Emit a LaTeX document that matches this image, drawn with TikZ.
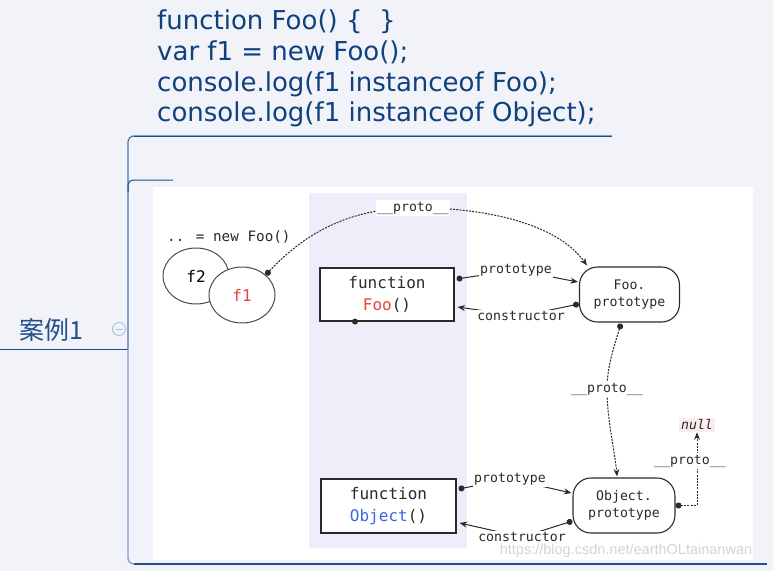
\documentclass[tikz,border=0pt]{standalone}
\usepackage{fontspec}
\setmainfont{DejaVu Sans}
\newfontfamily\monof{DejaVu Sans Mono}
\newfontfamily\cjk{Noto Sans CJK SC}
\newfontfamily\wmf{Liberation Sans}
\usetikzlibrary{arrows.meta,calc,shapes.geometric}
\definecolor{bgc}{HTML}{F2F3F8}
\definecolor{codec}{HTML}{0F4080}
\definecolor{mapdark}{HTML}{1F4F8F}
\definecolor{mapmid}{HTML}{4A73AB}
\definecolor{maplight}{HTML}{7E9DC9}
\definecolor{lav}{HTML}{EEEEFB}
\definecolor{ink}{HTML}{2A2A2A}
\definecolor{fooRed}{HTML}{E8433B}
\definecolor{objBlue}{HTML}{3F63E6}
\definecolor{nullbg}{HTML}{FBEDED}
\definecolor{iconc}{HTML}{A9C0E4}
\pgfdeclarelayer{back}
\pgfdeclarelayer{front}
\pgfsetlayers{back,main,front}
\tikzset{
  codetxt/.style={anchor=base west, inner sep=0pt, text=codec, font=\fontsize{26}{31}\selectfont},
  fnbox/.style={draw=ink, line width=1.1pt, fill=white, minimum width=134pt, minimum height=53pt,
    align=center, inner sep=0pt, text=ink, font=\monof\fontsize{16}{22}\selectfont},
  protobox/.style={draw=ink, line width=1.1pt, fill=white, rounded corners=18pt, minimum width=100pt,
    minimum height=55pt, align=center, inner sep=0pt, text=ink, font=\monof\fontsize{13.2}{17}\selectfont},
  lbl/.style={fill=white, inner sep=1.5pt, text=ink, font=\monof\fontsize{13.2}{15}\selectfont},
  elli/.style={ellipse, draw=ink!85, line width=1pt, fill=white, minimum width=66pt, minimum height=56pt,
    inner sep=0pt, font=\monof\fontsize{16}{18}\selectfont},
  link/.style={draw=ink, line width=1pt, {Circle[length=6pt]}-{Stealth[length=7.5pt,width=6pt]}},
  plink/.style={link, dash pattern=on 2pt off 1.2pt},
}
\begin{document}
\begin{tikzpicture}[x=1pt,y=-1pt]
\useasboundingbox (0,0) rectangle (773,571);
\begin{pgfonlayer}{back}
\fill[bgc] (0,0) rectangle (773,571);
\fill[white] (153,187) rectangle (753,560);
\fill[lav] (309,193) rectangle (467,548);
\end{pgfonlayer}

% code text
\node[codetxt] (c1) at (157,29) {function Foo() \{\ \ \}};
\node[codetxt] (c2) at (157,60) {var f1 = new Foo();};
\node[codetxt] (c3) at (157,91) {console.log(f1 instanceof Foo);};
\node[codetxt] (c4) at (157,121) {console.log(f1 instanceof Object);};

% mind map connectors
\draw[mapdark, line width=1pt] (0,349) -- (128,349);
\draw[mapmid, line width=1.2pt, rounded corners=6pt] (612,136) -- (128,136) -- (128,349);
\draw[mapdark, line width=1pt] (134,136) -- (612,136);
\draw[mapdark, line width=1pt, rounded corners=5pt] (173,180) -- (128,180) -- (128,192);
\draw[maplight, line width=1.3pt, rounded corners=6pt] (128,349) -- (128,564) -- (140,564);
\draw[mapdark, line width=1.2pt] (134,564) -- (767,564);

\node[anchor=base west, inner sep=0pt, text=mapdark, font=\cjk\fontsize{25}{27}\selectfont] (case) at (19,339) {案例1};
\node[circle, draw=iconc, line width=0.9pt, minimum size=13pt, inner sep=0pt] (icon) at (119,329) {};
\draw[iconc, line width=0.9pt] ($(icon.center)+(-3.5,0)$) -- ($(icon.center)+(3.5,0)$);

% diagram
\node[anchor=base west, inner sep=0pt, text=ink, font=\monof\fontsize{14.3}{16}\selectfont] (newfoo) at (167,241) {.. = new Foo()};
\node[elli] (f2) at (196,276) {f2};
\node[elli, text=fooRed] (f1) at (242,295) {f1};

\node[fnbox] (FooBox) at (387,294.5) {function\\\textcolor{fooRed}{Foo}()};
\node[fnbox, minimum width=135pt, minimum height=54pt] (OB) at (388.5,506) {function\\\textcolor{objBlue}{Object}()};
\node[protobox] (FP) at (629.5,294.5) {Foo.\\prototype};
\node[protobox, minimum width=102pt] (OP) at (624,505.5) {Object.\\prototype};

\begin{pgfonlayer}{front}
\node[lbl] (la) at (413,208) {\_\_proto\_\_};
\node[lbl] (lb) at (607,389) {\_\_proto\_\_};
\node[lbl] (lc) at (690,461) {\_\_proto\_\_};
\node[lbl, fill=nullbg, inner sep=2pt] (nl) at (697,425) {\itshape null};
\node[lbl] (lp1) at (516,270) {prototype};
\node[lbl] (lc1) at (521,316) {constructor};
\node[lbl] (lp2) at (510,479) {prototype};
\node[lbl] (lc2) at (522,537) {constructor};
\node[inner sep=0pt, text=black!17, font=\wmf\fontsize{14.5}{16}\selectfont] (wm) at (626,551) {https://blog.csdn.net/earthOLtainanwan};
\end{pgfonlayer}

% connectors
\draw[link] ($(FooBox.east)+(2,-15.5)$) -- (lp1.center) -- ($(FP.west)+(-1,-12.5)$);
\draw[link] ($(FP.west)+(0,9.5)$) -- (lc1.center) -- ($(FooBox.east)+(3,12.5)$);
\draw[link] ($(OB.east)+(2,-17)$) -- (lp2.center) -- ($(OP.west)+(-1,-12.5)$);
\draw[link] ($(OP.west)+(0,15.5)$) -- (lc2.center) -- ($(OB.east)+(3,17)$);

\draw[plink] (f1.40) .. controls (300,238) and (345,208) .. (la.center) .. controls (480,207) and (556,222) .. ($(FP.north west)+(8,-1)$);
\draw[plink] ($(FP.south)+(-8.5,1)$) .. controls (613,350) and (607,368) .. (lb.center) .. controls (607,420) and (615,452) .. ($(OP.north)+(-7,-1)$);
\draw[plink] ($(OP.east)+(0,0)$) -| (nl.south);

\fill[ink] ($(FooBox.south)+(-32,0)$) circle[radius=3pt];
\end{tikzpicture}
\end{document}
